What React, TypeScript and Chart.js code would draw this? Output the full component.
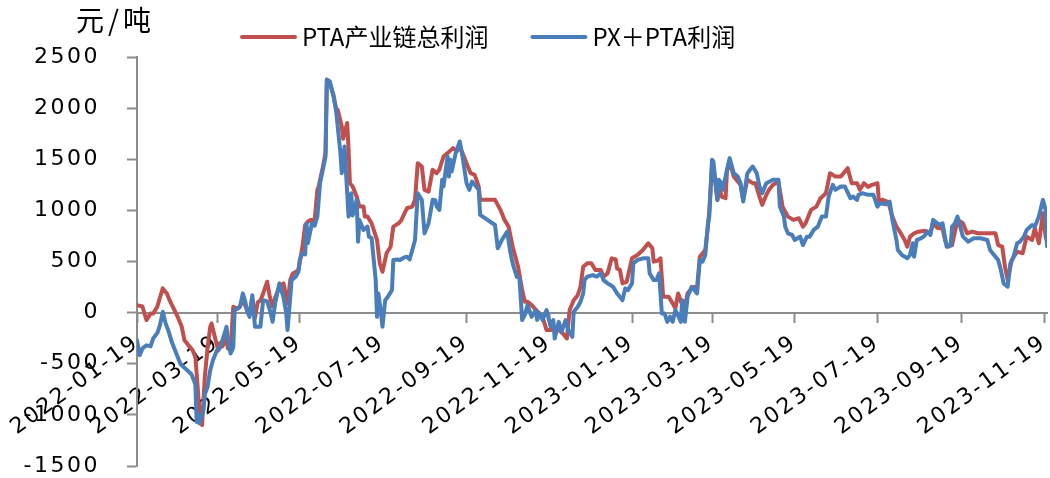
import React, { useEffect, useRef } from 'react';
import { Chart, registerables } from 'chart.js';

Chart.register(...registerables);

// ---------- data ----------
const unitLabel = '元/吨';
const seriesNames = ['PTA产业链总利润', 'PX＋PTA利润'];
const tickLabels = [
  '2022-01-19', '2022-03-19', '2022-05-19', '2022-07-19', '2022-09-19', '2022-11-19',
  '2023-01-19', '2023-03-19', '2023-05-19', '2023-07-19', '2023-09-19', '2023-11-19',
];
const startDate = '2022-01-19';
const lastDay = 671; // days after startDate

// days after 2022-01-19
const redDays = [
  0, 3, 4, 6, 7, 10, 12, 15, 17, 19,
  22, 24, 27, 30, 33, 35, 38, 41, 43, 44,
  46, 48, 50, 52, 54, 55, 58, 60, 61, 63,
  66, 67, 69, 71, 74, 76, 78, 80, 82, 83,
  85, 87, 89, 91, 93, 96, 98, 100, 102, 105,
  108, 111, 113, 115, 119, 122, 124, 126, 128, 131,
  133, 134, 135, 137, 139, 140, 142, 145, 147, 148,
  151, 152, 155, 156, 157, 159, 162, 164, 167, 168,
  170, 173, 177, 179, 181, 184, 187, 189, 193, 195,
  199, 203, 205, 207, 210, 212, 215, 218, 221, 223,
  226, 229, 233, 236, 238, 240, 243, 246, 249, 252,
  253, 264, 268, 271, 274, 277, 279, 281, 284, 286,
  288, 291, 294, 299, 302, 305, 308, 311, 314, 317,
  319, 322, 325, 327, 329, 332, 335, 338, 342, 344,
  347, 350, 353, 354, 356, 358, 361, 365, 369, 373,
  377, 380, 381, 384, 386, 388, 392, 395, 397, 399,
  402, 404, 406, 410, 413, 415, 419, 421, 422, 424,
  425, 428, 429, 431, 434, 435, 437, 440, 443, 445,
  447, 450, 454, 456, 459, 461, 464, 466, 469, 473,
  476, 478, 480, 484, 488, 491, 493, 497, 501, 504,
  508, 511, 515, 519, 522, 524, 527, 531, 533, 536,
  539, 542, 546, 547, 550, 554, 557, 560, 563, 566,
  568, 570, 573, 576, 581, 585, 587, 590, 594, 596,
  598, 601, 605, 609, 612, 616, 620, 627, 633, 635,
  638, 640, 642, 645, 649, 653, 656, 660, 662, 665,
  668, 670, 671,
];
const redValues = [
  73, 64, 60, -30, -73, -8, -8, 60, 150, 237,
  188, 122, 41, -41, -139, -270, -320, -367, -433, -596,
  -955, -1100, -630, -350, -139, -106, -270, -370, -300, -330,
  -250, -350, -367, 57, 40, 60, 150, 60, 20, 0,
  140, -50, 100, 120, 188, 302, 150, 60, 150, 250,
  286, 90, 318, 384, 416, 645, 857, 890, 907, 907,
  1201, 1233, 1300, 1420, 1560, 2279, 2262, 2115, 1985, 1985,
  1821, 1700, 1854, 1600, 1266, 1233, 1135, 1037, 1037, 939,
  939, 874, 710, 482, 400, 580, 645, 841, 874, 907,
  1021, 1037, 1103, 1462, 1429, 1201, 1184, 1397, 1364, 1400,
  1527, 1560, 1609, 1580, 1625, 1560, 1462, 1364, 1348, 1233,
  1103, 1103, 1005, 907, 841, 645, 547, 449, 220, 106,
  106, 73, 30, -41, -171, -171, -150, -170, -204, -253,
  25, 122, 171, 253, 449, 482, 482, 416, 416, 351,
  384, 531, 520, 433, 420, 286, 300, 531, 563, 612,
  678, 629, 498, 510, 531, 155, 155, 90, 41, 188,
  73, 60, 188, 250, 250, 547, 612, 841, 1000, 1450,
  1420, 1100, 1250, 1135, 1119, 1380, 1480, 1331, 1282, 1250,
  1103, 1300, 1266, 1266, 1135, 1054, 1150, 1201, 1250, 1280,
  1037, 988, 939, 907, 923, 841, 874, 1005, 1037, 1119,
  1168, 1364, 1331, 1331, 1380, 1413, 1266, 1266, 1201, 1266,
  1230, 1250, 1266, 1100, 1103, 1080, 939, 841, 780, 710,
  645, 743, 776, 792, 800, 780, 874, 830, 820, 700,
  645, 660, 907, 874, 776, 792, 776, 776, 776, 661,
  645, 449, 318, 515, 596, 580, 743, 710, 825, 678,
  972, 743, 700,
];

const blueDays = [
  0, 2, 4, 7, 10, 12, 15, 17, 19, 21,
  23, 26, 29, 32, 35, 37, 40, 41, 43, 44,
  45, 46, 49, 50, 52, 54, 56, 58, 59, 61,
  63, 66, 67, 69, 71, 72, 74, 76, 78, 80,
  81, 83, 85, 87, 91, 93, 96, 98, 100, 102,
  105, 108, 110, 111, 113, 114, 117, 119, 120, 122,
  124, 125, 126, 129, 131, 133, 135, 137, 139, 140,
  142, 145, 147, 148, 150, 151, 153, 156, 158, 159,
  162, 163, 164, 167, 170, 171, 173, 176, 177, 178,
  180, 181, 183, 185, 188, 189, 192, 194, 197, 199,
  201, 203, 205, 207, 210, 212, 215, 218, 220, 221,
  223, 225, 226, 229, 230, 231, 232, 235, 238, 240,
  243, 245, 247, 249, 252, 253, 264, 266, 269, 273,
  275, 277, 280, 282, 284, 286, 288, 291, 294, 295,
  297, 299, 302, 305, 307, 308, 311, 313, 316, 318,
  321, 322, 325, 327, 329, 330, 332, 336, 339, 342,
  344, 347, 351, 354, 356, 358, 360, 362, 365, 366,
  369, 373, 377, 378, 381, 383, 385, 387, 389, 391,
  393, 395, 397, 399, 401, 402, 404, 406, 409, 413,
  415, 417, 419, 421, 422, 424, 425, 428, 429, 431,
  432, 435, 437, 440, 443, 445, 447, 450, 452, 454,
  457, 459, 461, 464, 469, 473, 474, 477, 478, 480,
  483, 485, 489, 491, 494, 496, 499, 502, 505, 508,
  510, 513, 515, 519, 522, 526, 528, 531, 532, 535,
  539, 543, 546, 548, 552, 555, 557, 560, 561, 564,
  568, 570, 572, 573, 575, 578, 580, 583, 585, 587,
  590, 592, 594, 597, 600, 601, 603, 605, 607, 609,
  613, 617, 622, 627, 629, 633, 635, 637, 639, 642,
  644, 646, 649, 651, 654, 656, 660, 662, 665, 668,
  670, 671,
];
const blueValues = [
  -270, -417, -350, -320, -330, -250, -200, -120, 8, -100,
  -172, -300, -400, -500, -540, -563, -600, -630, -700, -1070,
  -1000, -1083, -955, -800, -727, -563, -465, -400, -367, -350,
  -270, -139, -250, -400, -340, 25, 40, 57, 188, 100,
  20, -41, 171, -139, -139, 122, 110, 25, -90, 100,
  286, 150, 0, -171, 150, 318, 351, 400, 515, 580,
  570, 870, 680, 874, 850, 940, 1266, 1397, 1527, 2279,
  2262, 2115, 1952, 1821, 1560, 1364, 1625, 939, 1168, 950,
  1103, 694, 907, 809, 841, 743, 730, 318, -41, 188,
  -8, -139, 122, 155, 220, 515, 520, 515, 540, 547,
  520, 612, 710, 1168, 1103, 776, 874, 1103, 1100, 1037,
  1005, 1299, 1233, 1527, 1331, 1495, 1380, 1560, 1674, 1527,
  1266, 1201, 1282, 1250, 1201, 956, 857, 629, 710, 792,
  612, 482, 351, 335, -73, -20, 73, -41, 25, -73,
  -8, -73, 25, -139, -73, -253, -90, -188, -73, -171,
  -237, 8, 57, 106, 188, 318, 351, 367, 351, 384,
  318, 286, 253, 188, 155, 122, 237, 220, 286, 482,
  515, 531, 531, 384, 318, 318, 384, -8, -8, -90,
  -40, -90, 25, -30, -90, 122, -90, 155, 253, 188,
  515, 498, 563, 874, 939, 1495, 1478, 1103, 1299, 1266,
  1201, 1397, 1511, 1364, 1331, 1266, 1086, 1360, 1397, 1429,
  1364, 1233, 1168, 1266, 1299, 1299, 1037, 939, 841, 776,
  760, 710, 743, 661, 743, 743, 809, 841, 939, 939,
  1135, 1250, 1201, 1233, 1233, 1119, 1135, 1103, 1152, 1168,
  1152, 1152, 1037, 1070, 1060, 1086, 907, 710, 612, 563,
  531, 563, 678, 547, 710, 727, 743, 792, 760, 907,
  874, 857, 874, 645, 660, 841, 870, 939, 841, 743,
  694, 727, 727, 710, 612, 547, 515, 416, 286, 253,
  482, 531, 678, 694, 743, 809, 857, 841, 939, 1103,
  1005, 650,
];

const yMin = -1500;
const yMax = 2500;
const yStep = 500;

// ---------- styling ----------
const RED = '#C0504D';
const BLUE = '#4A7EBB';
const AXIS = '#8C8C8C';
const TICK_FONT = { family: '"DejaVu Sans", Verdana, sans-serif', size: 22 };
const CJK = '"Noto Sans CJK SC", "Noto Sans", sans-serif';

const dayOf = (s: string) => {
  const p = (t: string) => Date.UTC(+t.slice(0, 4), +t.slice(5, 7) - 1, +t.slice(8, 10));
  return Math.round((p(s) - p(startDate)) / 86400000);
};
const tickDays = tickLabels.map(dayOf);

const spacingPlugin = {
  id: 'letterSpacing',
  beforeLayout(chart: any) {
    chart.ctx.letterSpacing = '2.5px';
  },
  beforeDraw(chart: any) {
    chart.ctx.letterSpacing = '2.5px';
  },
};

const headerPlugin = {
  id: 'header',
  afterDraw(chart: any) {
    const ctx = chart.ctx;
    ctx.save();
    ctx.fillStyle = '#000';
    ctx.textAlign = 'left';
    ctx.textBaseline = 'middle';
    ctx.letterSpacing = '4px';
    ctx.font = `28px ${CJK}`;
    ctx.fillText(unitLabel, 76, 20);

    ctx.letterSpacing = '0px';
    ctx.font = `24px ${CJK}`;
    const colors = [RED, BLUE];
    let x = 242;
    const y = 37;
    seriesNames.forEach((name, i) => {
      ctx.strokeStyle = colors[i];
      ctx.lineWidth = 4;
      ctx.lineCap = 'round';
      ctx.beginPath();
      ctx.moveTo(x, y);
      ctx.lineTo(x + 53, y);
      ctx.stroke();
      ctx.fillText(name, x + 60, y);
      x += 60 + ctx.measureText(name).width + 44;
    });
    ctx.restore();
  },
};

export default function App() {
  const canvasRef = useRef<HTMLCanvasElement | null>(null);

  useEffect(() => {
    if (!canvasRef.current) return;
    const toPoints = (days: number[], vals: number[]) => days.map((d, i) => ({ x: d, y: vals[i] }));
    const lineStyle = {
      borderWidth: 4,
      pointRadius: 0,
      tension: 0,
      borderJoinStyle: 'round' as const,
      borderCapStyle: 'round' as const,
      fill: false,
    };
    const chart = new Chart(canvasRef.current, {
      type: 'line',
      data: {
        datasets: [
          { label: seriesNames[1], data: toPoints(blueDays, blueValues), borderColor: BLUE, backgroundColor: BLUE, order: 0, ...lineStyle },
          { label: seriesNames[0], data: toPoints(redDays, redValues), borderColor: RED, backgroundColor: RED, order: 1, ...lineStyle },
        ],
      },
      options: {
        animation: false,
        responsive: true,
        maintainAspectRatio: false,
        layout: { padding: { top: 57, right: 3, bottom: 12, left: 0 } },
        plugins: { legend: { display: false }, tooltip: { enabled: false }, title: { display: false } },
        scales: {
          x: {
            type: 'linear',
            min: 0,
            max: lastDay,
            position: { y: 0 } as any,
            afterBuildTicks: (s: any) => {
              s.ticks = tickDays.map((v) => ({ value: v }));
            },
            afterFit: (s: any) => {
              s.paddingLeft = 0;
              s.paddingRight = 0;
              s.paddingTop = 0;
              s.paddingBottom = 0;
            },
            ticks: {
              autoSkip: false,
              minRotation: 36,
              maxRotation: 36,
              padding: 8,
              color: '#000',
              font: TICK_FONT,
              callback: (_v: any, i: number) => tickLabels[i],
            },
            grid: { drawOnChartArea: false, drawTicks: true, tickLength: 9, tickWidth: 2, tickColor: AXIS },
            border: { display: true, color: AXIS, width: 2 },
          },
          y: {
            type: 'linear',
            min: yMin,
            max: yMax,
            position: 'left',
            afterFit: (s: any) => {
              s.width = 137;
              s.paddingTop = 0;
              s.paddingBottom = 0;
            },
            ticks: {
              stepSize: yStep,
              padding: 27,
              color: '#000',
              font: TICK_FONT,
              callback: (v: any) => String(v),
            },
            grid: { drawOnChartArea: false, drawTicks: true, tickLength: 10, tickWidth: 2, tickColor: AXIS },
            border: { display: true, color: AXIS, width: 2 },
          },
        },
      },
      plugins: [spacingPlugin, headerPlugin],
    });
    return () => chart.destroy();
  }, []);

  return (
    <div style={{ position: 'fixed', left: 0, top: 0, width: 1050, height: 478, background: '#fff' }}>
      <canvas ref={canvasRef} />
    </div>
  );
}
